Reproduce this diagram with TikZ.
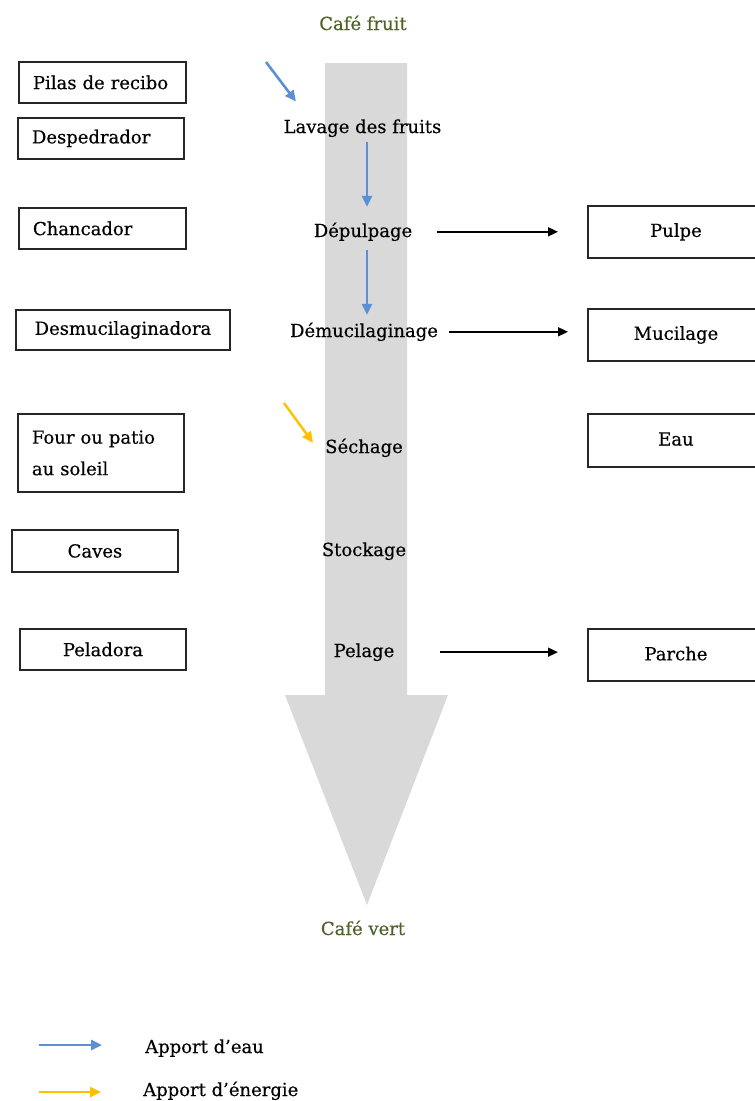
\documentclass[tikz,border=0pt]{standalone}
\usepackage{fontspec}
\setmainfont[FakeBold=0.4]{DejaVu Serif}
\usetikzlibrary{arrows.meta}
\definecolor{shaftgray}{HTML}{D9D9D9}
\definecolor{wblue}{HTML}{5B8FD6}
\definecolor{eyellow}{HTML}{FFC000}
\definecolor{olivetxt}{HTML}{4F6228}
\newcommand{\up}[1]{\raisebox{3pt}{#1}}
\begin{document}
\begin{tikzpicture}[x=1pt,y=-1pt,
  every node/.style={font=\fontsize{18pt}{31.5pt}\selectfont},
  lbl/.style={inner sep=0pt, anchor=base},
  box/.style={draw=black!85, line width=1.9pt, inner sep=0pt, anchor=north west},
  rbox/.style={box, minimum width=176pt},
  blk/.style={line width=1.7pt, -{Triangle[length=10pt,width=9pt]}},
  wat/.style={wblue, line width=2.6pt, -{Triangle[length=11pt,width=10pt]}},
  nrg/.style={eyellow, line width=2.4pt, -{Triangle[length=11pt,width=10pt]}}
]
\useasboundingbox (0,0) rectangle (755,1101);
% big arrow
\fill[shaftgray] (325,63) -- (407,63) -- (407,695) -- (448,695) -- (367,905) -- (285,695) -- (325,695) -- cycle;

% top / bottom labels
\node[lbl, text=olivetxt] (cf) at (363,30) {Café fruit};
\node[lbl, text=olivetxt] (cv) at (363,935) {Café vert};

% process steps
\node[lbl] (lav) at (362.5,133) {Lavage des fruits};
\node[lbl] (dep) at (363,237) {Dépulpage};
\node[lbl] (dem) at (364,337) {Démucilaginage};
\node[lbl] (sech) at (364,453) {Séchage};
\node[lbl] (stock) at (364,556) {Stockage};
\node[lbl] (pel) at (364,657) {Pelage};

% left boxes
\node[box, minimum width=167pt, minimum height=41pt, text width=139pt, inner xsep=14pt, align=left] (pilas) at (18,61) {Pilas de recibo};
\node[box, minimum width=166pt, minimum height=41pt, text width=138pt, inner xsep=14pt, align=left] (desp) at (17,117) {Despedrador};
\node[box, minimum width=167pt, minimum height=41pt, text width=139pt, inner xsep=14pt, align=left] (chan) at (18,207) {Chancador};
\node[box, minimum width=214pt, minimum height=40pt, align=center] (desm) at (15,309) {Desmucilaginadora};
\node[box, minimum width=166pt, minimum height=78pt, text width=138pt, inner xsep=14pt, align=left] (four) at (17,413) {Four ou patio\\au soleil};
\node[box, minimum width=166pt, minimum height=42pt, align=center] (caves) at (11,529) {Caves};
\node[box, minimum width=166pt, minimum height=41pt, align=center] (pelad) at (19,628) {Peladora};

% right boxes
\node[rbox, minimum height=52pt] (pulpe) at (587,205) {\up{Pulpe}};
\node[rbox, minimum height=52pt] (muci) at (587,308) {\up{Mucilage}};
\node[rbox, minimum height=53pt] (eau) at (587,413) {\up{Eau}};
\node[rbox, minimum height=52pt] (parche) at (587,628) {\up{Parche}};

% black output arrows
\draw[blk, shorten <=25pt, shorten >=29pt] (dep.east) -- (dep.east -| pulpe.west);
\draw[blk, shorten <=11pt, shorten >=19pt] (dem.east) -- (dem.east -| muci.west);
\draw[blk, shorten <=45pt, shorten >=29pt] (pel.east) -- (pel.east -| parche.west);

% water arrows
\coordinate (w0) at (266,62);
\draw[wat] (w0) -- ([xshift=12.5pt,yshift=17.6pt]lav.north west);
\draw[wat, shorten <=4.5pt, shorten >=15.6pt] ([xshift=4.5pt]lav.south) -- ([xshift=4pt]dep.north);
\draw[wat, shorten <=8.7pt, shorten >=7.6pt] ([xshift=4pt]dep.south) -- ([xshift=3pt]dem.north);

% energy arrow
\coordinate (e0) at (284,403);
\draw[nrg] (e0) -- ([xshift=-12pt,yshift=5pt]sech.west);

% legend
\node[lbl, anchor=base west] (leg1) at (145,1053) {Apport d’eau};
\node[lbl, anchor=base west] (leg2) at (143,1096) {Apport d’énergie};
\coordinate (l1) at (39,1045);
\coordinate (l2) at (39,1092);
\draw[wat, shorten >=43pt] (l1) -- (l1 -| leg1.west);
\draw[nrg, shorten >=42pt] (l2) -- (l2 -| leg2.west);
\end{tikzpicture}
\end{document}
